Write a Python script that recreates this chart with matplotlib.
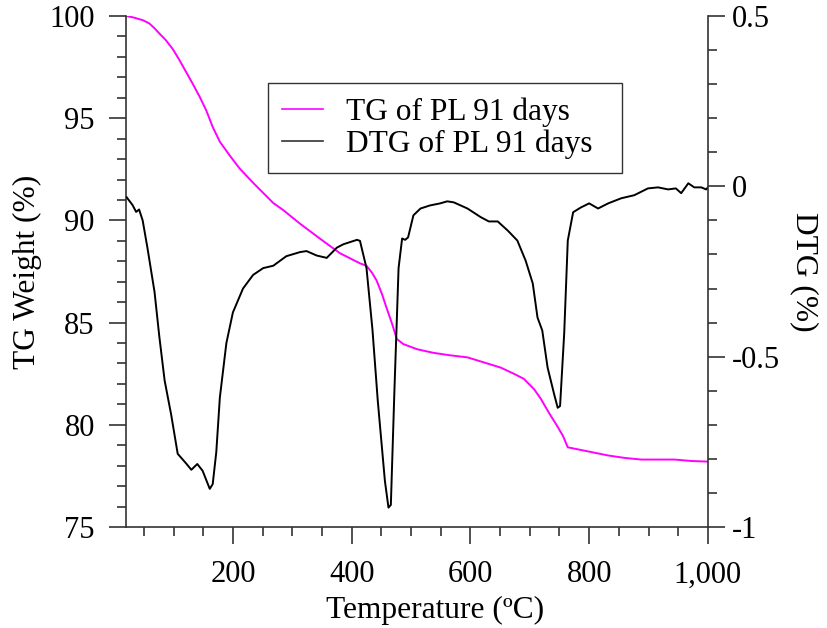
import matplotlib
matplotlib.use("Agg")
import matplotlib.pyplot as plt
from matplotlib.ticker import MultipleLocator, FuncFormatter
from matplotlib.lines import Line2D

plt.rcParams['font.family'] = ['Liberation Serif', 'DejaVu Serif']

# TG curve (left axis)
T_tg = [20, 31, 48, 59, 68, 76, 87, 99, 110, 121, 132, 144, 155, 166, 178, 194, 211,
        234, 256, 268, 285, 313, 347, 380, 414, 425, 434, 442, 451, 459, 468, 476,
        487, 510, 538, 566, 595, 623, 651, 673, 690, 707, 718, 732, 747, 756, 764,
        798, 832, 860, 888, 944, 972, 1000]
tg = [100, 99.94, 99.8, 99.64, 99.4, 99.15, 98.82, 98.37, 97.84, 97.27, 96.7, 96.05,
      95.39, 94.57, 93.85, 93.2, 92.55, 91.84, 91.2, 90.85, 90.5, 89.84, 89.1, 88.4,
      87.9, 87.78, 87.45, 87.06, 86.4, 85.7, 84.95, 84.2, 83.95, 83.7, 83.52, 83.4,
      83.3, 83.05, 82.8, 82.5, 82.25, 81.75, 81.3, 80.6, 79.9, 79.45, 78.9, 78.7,
      78.5, 78.38, 78.3, 78.3, 78.23, 78.2]

# DTG curve (right axis)
T_dtg = [21, 31, 37, 42, 48, 56, 68, 76, 85, 96, 107, 113, 122, 130, 140, 149, 161,
         166, 172, 178, 189, 200, 217, 234, 251, 268, 290, 313, 324, 341, 358, 375,
         386, 409, 414, 425, 435, 444, 456, 462, 466, 472, 479, 485, 490, 495, 504,
         516, 532, 549, 561, 572, 595, 617, 631, 646, 663, 679, 693, 705, 713, 721,
         730, 741, 747, 751, 758, 764, 773, 786, 800, 815, 832, 854, 876, 899, 916,
         933, 946, 955, 967, 977, 989, 997, 1000]
dtg = [-0.032, -0.055, -0.075, -0.068, -0.10, -0.18, -0.31, -0.44, -0.57, -0.67,
       -0.785, -0.797, -0.815, -0.832, -0.815, -0.835, -0.888, -0.874, -0.78, -0.62,
       -0.46, -0.37, -0.30, -0.26, -0.24, -0.233, -0.205, -0.193, -0.19, -0.203,
       -0.21, -0.18, -0.17, -0.157, -0.16, -0.24, -0.42, -0.63, -0.865, -0.943,
       -0.935, -0.60, -0.24, -0.153, -0.157, -0.15, -0.085, -0.065, -0.056, -0.05,
       -0.044, -0.047, -0.065, -0.09, -0.103, -0.103, -0.13, -0.159, -0.218, -0.285,
       -0.385, -0.423, -0.532, -0.61, -0.65, -0.645, -0.43, -0.159, -0.076, -0.062,
       -0.05, -0.065, -0.05, -0.035, -0.026, -0.006, -0.003, -0.009, -0.006, -0.02,
       0.009, -0.003, -0.003, -0.009, -0.003]

labels = ["TG of PL 91 days", "DTG of PL 91 days"]

fs = 22
fs_lab = 22.6
fig = plt.figure(figsize=(8.27, 6.28), dpi=100)
ax = fig.add_axes([0.1524, 0.1608, 0.856 - 0.1524, 0.9745 - 0.1608])
ax2 = ax.twinx()

ax.plot(T_tg, tg, color='#ff00ff', lw=1.4)
ax2.plot(T_dtg, dtg, color='black', lw=1.4)

ax.set_xlim(20, 1000)
ax.set_ylim(75, 100)
ax2.set_ylim(-1, 0.5)

for a in (ax, ax2):
    a.spines['top'].set_visible(False)
    a.patch.set_visible(False)
ax.spines['right'].set_visible(False)
ax2.spines['left'].set_visible(False)
ax2.spines['bottom'].set_visible(False)
for s in ('left', 'bottom'):
    ax.spines[s].set_color('#333333')
    ax.spines[s].set_linewidth(1.2)
ax2.spines['right'].set_color('#333333')
ax2.spines['right'].set_linewidth(1.2)

ax.xaxis.set_major_locator(MultipleLocator(200))
ax.xaxis.set_minor_locator(MultipleLocator(50))
ax.xaxis.set_major_formatter(FuncFormatter(lambda v, p: f"{int(v):,}"))
ax.yaxis.set_major_locator(MultipleLocator(5))
ax.yaxis.set_minor_locator(MultipleLocator(1))
ax2.yaxis.set_major_locator(MultipleLocator(0.5))
ax2.yaxis.set_minor_locator(MultipleLocator(0.1))
ax2.yaxis.set_major_formatter(FuncFormatter(lambda v, p: f"{v:g}"))

ax.tick_params(axis='both', which='major', direction='out', length=12, width=1.2,
               color='#333333', labelsize=fs)
ax.tick_params(axis='both', which='minor', direction='out', length=6.5, width=1.2,
               color='#333333')
ax.tick_params(axis='y', which='major', pad=10.5)
ax.tick_params(axis='x', which='major', pad=12)
ax2.tick_params(axis='y', which='major', direction='out', length=12, width=1.2,
                color='#333333', labelsize=fs, pad=5.5)
ax2.tick_params(axis='y', which='minor', direction='out', length=6.5, width=1.2,
                color='#333333')

ax.set_xlabel("Temperature (ºC)", fontsize=fs_lab, labelpad=2)
ax.xaxis.set_label_coords(0.531, -0.135)
ax.set_ylabel("TG Weight (%)", fontsize=fs_lab, labelpad=5)
ax2.set_ylabel("DTG (%)", fontsize=fs_lab, rotation=270, labelpad=28)

handles = [Line2D([], [], color='#ff00ff', lw=1.2), Line2D([], [], color='#333333', lw=1.2)]
leg = ax2.legend(handles, labels, loc='upper left',
                 bbox_to_anchor=(0.244, 0.691, 0.608, 0.178), mode='expand',
                 borderaxespad=0, fontsize=fs_lab, frameon=True, fancybox=False,
                 edgecolor='black', handlelength=1.3, handletextpad=0.75,
                 labelspacing=0.1, borderpad=0.45)
leg.get_frame().set_linewidth(1.0)

fig.savefig("out.png", dpi=100)
